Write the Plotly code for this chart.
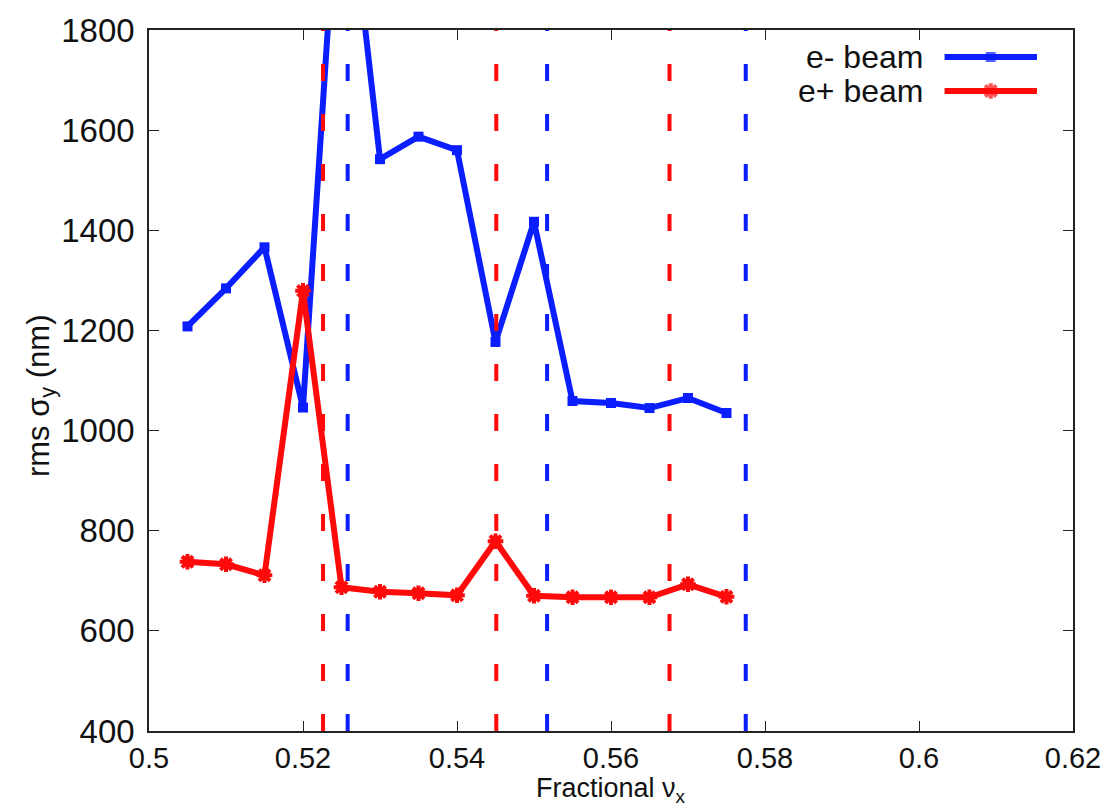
import plotly.graph_objects as go

# Fractional horizontal tune scan
nu_x = [0.505, 0.510, 0.515, 0.520, 0.525, 0.530, 0.535, 0.540,
        0.545, 0.550, 0.555, 0.560, 0.565, 0.570, 0.575]

# rms vertical beam size (nm)
sigma_e_minus = [1208, 1284, 1366, 1046, 2220, 1542, 1587, 1560,
                 1177, 1417, 1059, 1055, 1045, 1065, 1035]
sigma_e_plus = [738, 733, 711, 1279, 687, 678, 675, 671,
                779, 670, 667, 667, 667, 693, 668]

# Resonance line positions
res_e_plus = [0.5226, 0.5451, 0.5676]
res_e_minus = [0.5258, 0.5517, 0.5775]

series_names = ["e- beam", "e+ beam"]
x_ticks = [0.5, 0.52, 0.54, 0.56, 0.58, 0.6, 0.62]
x_tick_text = ["0.5", "0.52", "0.54", "0.56", "0.58", "0.6", "0.62"]
y_ticks = [400, 600, 800, 1000, 1200, 1400, 1600, 1800]

BLUE = "#0a1eff"
RED = "#ff0a0a"
FONT = "Liberation Sans, Arial, sans-serif"
TICK_SIZE = 33

fig = go.Figure()

fig.add_trace(go.Scatter(
    x=nu_x, y=sigma_e_minus, mode="lines+markers", name=series_names[0],
    line=dict(color=BLUE, width=6),
    marker=dict(symbol="square", size=10, color=BLUE),
    showlegend=False, cliponaxis=True,
))
fig.add_trace(go.Scatter(
    x=nu_x, y=sigma_e_plus, mode="lines+markers", name=series_names[1],
    line=dict(color=RED, width=6),
    marker=dict(symbol="asterisk-open", size=13, color=RED,
                line=dict(color=RED, width=4)),
    showlegend=False, cliponaxis=True,
))

# Dashed vertical resonance lines, drawn above the data
for xs, col in ((res_e_plus, RED), (res_e_minus, BLUE)):
    for xv in xs:
        fig.add_shape(type="line", xref="x", yref="y",
                      x0=xv, x1=xv, y0=400, y1=1800,
                      line=dict(color=col, width=4, dash="17px,33px"),
                      layer="above")

# Key: text on the left, line sample on the right
key_rows = [(0.9615, series_names[0], BLUE, "square", 10, 0),
            (0.913, series_names[1], RED, "asterisk-open", 13, 4)]
for ky, label, col, sym, msize, mlw in key_rows:
    fig.add_trace(go.Scatter(
        x=[0.861, 0.911, 0.961], y=[ky, ky, ky],
        xaxis="x2", yaxis="y2", mode="lines+markers",
        line=dict(color=col, width=6),
        marker=dict(symbol=sym, size=[0, msize, 0], color=col,
                    line=dict(color=col, width=mlw)),
        showlegend=False, hoverinfo="skip",
    ))
    fig.add_annotation(x=0.84, y=ky, xref="paper", yref="paper",
                       text=label, showarrow=False, xanchor="right",
                       yanchor="middle",
                       font=dict(family=FONT, size=32, color="#111"))

# Axis titles
fig.add_annotation(x=-0.117, y=0.479, xref="paper", yref="paper",
                   text="rms σ<sub>y</sub> (nm)", showarrow=False,
                   textangle=-90, xanchor="center", yanchor="middle",
                   font=dict(family=FONT, size=31, color="#111"))
fig.add_annotation(x=0.5, y=-0.1095, xref="paper", yref="paper",
                   text="Fractional ν<sub>x</sub>", showarrow=False,
                   xanchor="center", yanchor="bottom", borderpad=0,
                   font=dict(family=FONT, size=27, color="#111"))

axis_common = dict(
    showline=True, linecolor="#222", linewidth=1.5, mirror="ticks",
    ticks="inside", ticklen=10, tickwidth=1.2, tickcolor="#222",
    showgrid=False, zeroline=False,
)

fig.update_layout(
    width=1119, height=809,
    margin=dict(l=149, r=46, t=30, b=78),
    paper_bgcolor="white", plot_bgcolor="white",
    font=dict(family=FONT, color="#111"),
    xaxis=dict(range=[0.5, 0.62], tickvals=x_ticks, ticktext=x_tick_text,
               tickfont=dict(family=FONT, size=29, color="#111"),
               ticklabelstandoff=0, automargin=False, **axis_common),
    yaxis=dict(range=[400, 1800], tickvals=y_ticks,
               tickfont=dict(family=FONT, size=TICK_SIZE, color="#111"),
               ticklabelstandoff=6, automargin=False, **axis_common),
    xaxis2=dict(overlaying="x", range=[0, 1], visible=False),
    yaxis2=dict(overlaying="y", range=[0, 1], visible=False),
)

fig.write_html("out.html")
